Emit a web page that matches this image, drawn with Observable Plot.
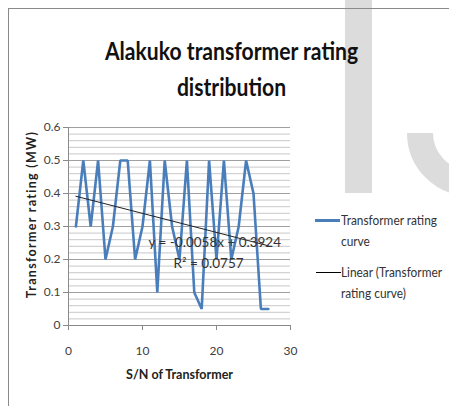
<!DOCTYPE html>
<html>
<head>
<meta charset="utf-8">
<script src="https://cdn.jsdelivr.net/npm/d3@7"></script>
<script src="https://cdn.jsdelivr.net/npm/@observablehq/plot@0.6"></script>
<style>
  html, body { margin: 0; padding: 0; background: #fff; }
  #wrap { position: relative; width: 449px; height: 406px; overflow: hidden; background: #fff; font-family: "Lato", "Open Sans", sans-serif; }
  .wm-bar { position: absolute; left: 345px; top: 0; width: 27px; height: 193px; background: #dcdcdc; }
  .wm-ring { position: absolute; left: 407px; top: 70px; width: 126px; height: 126px; box-sizing: border-box; border: 26px solid #dcdcdc; border-radius: 50%; clip-path: inset(63px 0 0 0); }
  .frame { position: absolute; left: 8px; top: 8px; width: 460px; height: 420px; border-top: 1.5px solid #8a8a8a; border-left: 1.5px solid #8a8a8a; }
  #title { position: absolute; left: 46px; width: 360px; top: 33px; text-align: center; font-family: "Lato", sans-serif; font-weight: bold; font-size: 24px; line-height: 36px; color: #111; transform: scaleX(0.88); transform-origin: 226px 0; }
  #chart { position: absolute; left: 0; top: 110px; }
  .legend { position: absolute; font-family: "Lato", sans-serif; font-size: 12.5px; line-height: 21px; color: #333; transform: scaleX(0.95); transform-origin: 0 0; }
  .sw { position: absolute; }
</style>
</head>
<body>
<div id="wrap">
  <div class="wm-bar"></div>
  <div class="wm-ring"></div>
  <div class="frame"></div>
  <div id="title">Alakuko transformer rating<br>distribution</div>
  <div id="chart"></div>
  <div class="sw" style="left:315px; top:219px; width:25px; height:2.5px; background:#4a7ebb;"></div>
  <div class="legend" style="left:341px; top:210px;">Transformer rating<br>curve</div>
  <div class="sw" style="left:316px; top:272px; width:25px; height:1px; background:#000;"></div>
  <div class="legend" style="left:341px; top:262px;">Linear (Transformer<br>rating curve)</div>
</div>
<script>
// Data
const serialNumber = [1,2,3,4,5,6,7,8,9,10,11,12,13,14,15,16,17,18,19,20,21,22,23,24,25,26,27];
const ratingMW = [0.3,0.5,0.3,0.5,0.2,0.3,0.5,0.5,0.2,0.3,0.5,0.1,0.5,0.3,0.2,0.5,0.1,0.05,0.5,0.2,0.5,0.2,0.3,0.5,0.4,0.05,0.05];
const xTicks = [0, 10, 20, 30];
const yTicks = [0, 0.1, 0.2, 0.3, 0.4, 0.5, 0.6];
const yMinorGrid = [0.02,0.04,0.06,0.08,0.12,0.14,0.16,0.18,0.22,0.24,0.26,0.28,0.32,0.34,0.36,0.38,0.42,0.44,0.46,0.48,0.52,0.54,0.56,0.58];
const trendEquation = "y = -0.0058x + 0.3924";
const trendR2 = "R² = 0.0757";
const xTitle = "S/N of Transformer";
const yTitle = "Transformer rating (MW)";

const data = serialNumber.map((sn, i) => ({sn, rating: ratingMW[i]}));
const fontFam = "Lato, sans-serif";

const chart = Plot.plot({
  width: 300,
  height: 280,
  marginLeft: 68,
  marginRight: 10,
  marginTop: 17,
  marginBottom: 65,
  style: {fontFamily: fontFam, fontSize: "12px", color: "#404040", background: "transparent", overflow: "visible"},
  x: {domain: [0, 30]},
  y: {domain: [0, 0.6]},
  marks: [
    Plot.ruleY(yMinorGrid, {stroke: "#c8c8c8", strokeWidth: 1}),
    Plot.ruleY(yTicks.filter(d => d > 0), {stroke: "#a0a0a0", strokeWidth: 1}),
    Plot.axisX({ticks: xTicks, tickSize: 5, tickPadding: 16, stroke: "#8a8a8a", fill: "#404040", label: null, tickFormat: d => String(d)}),
    Plot.axisY({ticks: yTicks, tickSize: 5, tickPadding: 3, stroke: "#8a8a8a", fill: "#404040", label: null, tickFormat: d => String(d)}),
    Plot.ruleY([0], {stroke: "#8a8a8a"}),
    Plot.ruleX([0], {stroke: "#8a8a8a"}),
    Plot.line(data, {x: "sn", y: "rating", stroke: "#4a7ebb", strokeWidth: 2.6, strokeLinejoin: "miter"}),
    Plot.linearRegressionY(data, {x: "sn", y: "rating", ci: 0, stroke: "#222", strokeWidth: 1}),
    Plot.text([trendEquation], {frameAnchor: "top-left", textAnchor: "start", dx: 80, dy: 110, fill: "#333", fontSize: 13.5}),
    Plot.text([trendR2], {frameAnchor: "top-left", textAnchor: "start", dx: 105, dy: 131, fill: "#333", fontSize: 13.5}),
    Plot.text([xTitle], {frameAnchor: "bottom", textAnchor: "middle", dy: 53, fill: "#222", fontSize: 12.5, fontWeight: "bold"}),
    Plot.text([yTitle], {frameAnchor: "left", textAnchor: "middle", dx: -37, dy: -12, rotate: -90, fill: "#222", fontSize: 12.5, fontWeight: "bold"})
  ]
});
chart.querySelectorAll("text").forEach(t => {
  if (t.textContent === yTitle) { t.style.letterSpacing = "1.3px"; t.style.fontWeight = "bold"; }
  if (t.textContent === xTitle) { t.style.fontWeight = "bold"; }
});
document.getElementById("chart").appendChild(chart);
</script>
</body>
</html>
